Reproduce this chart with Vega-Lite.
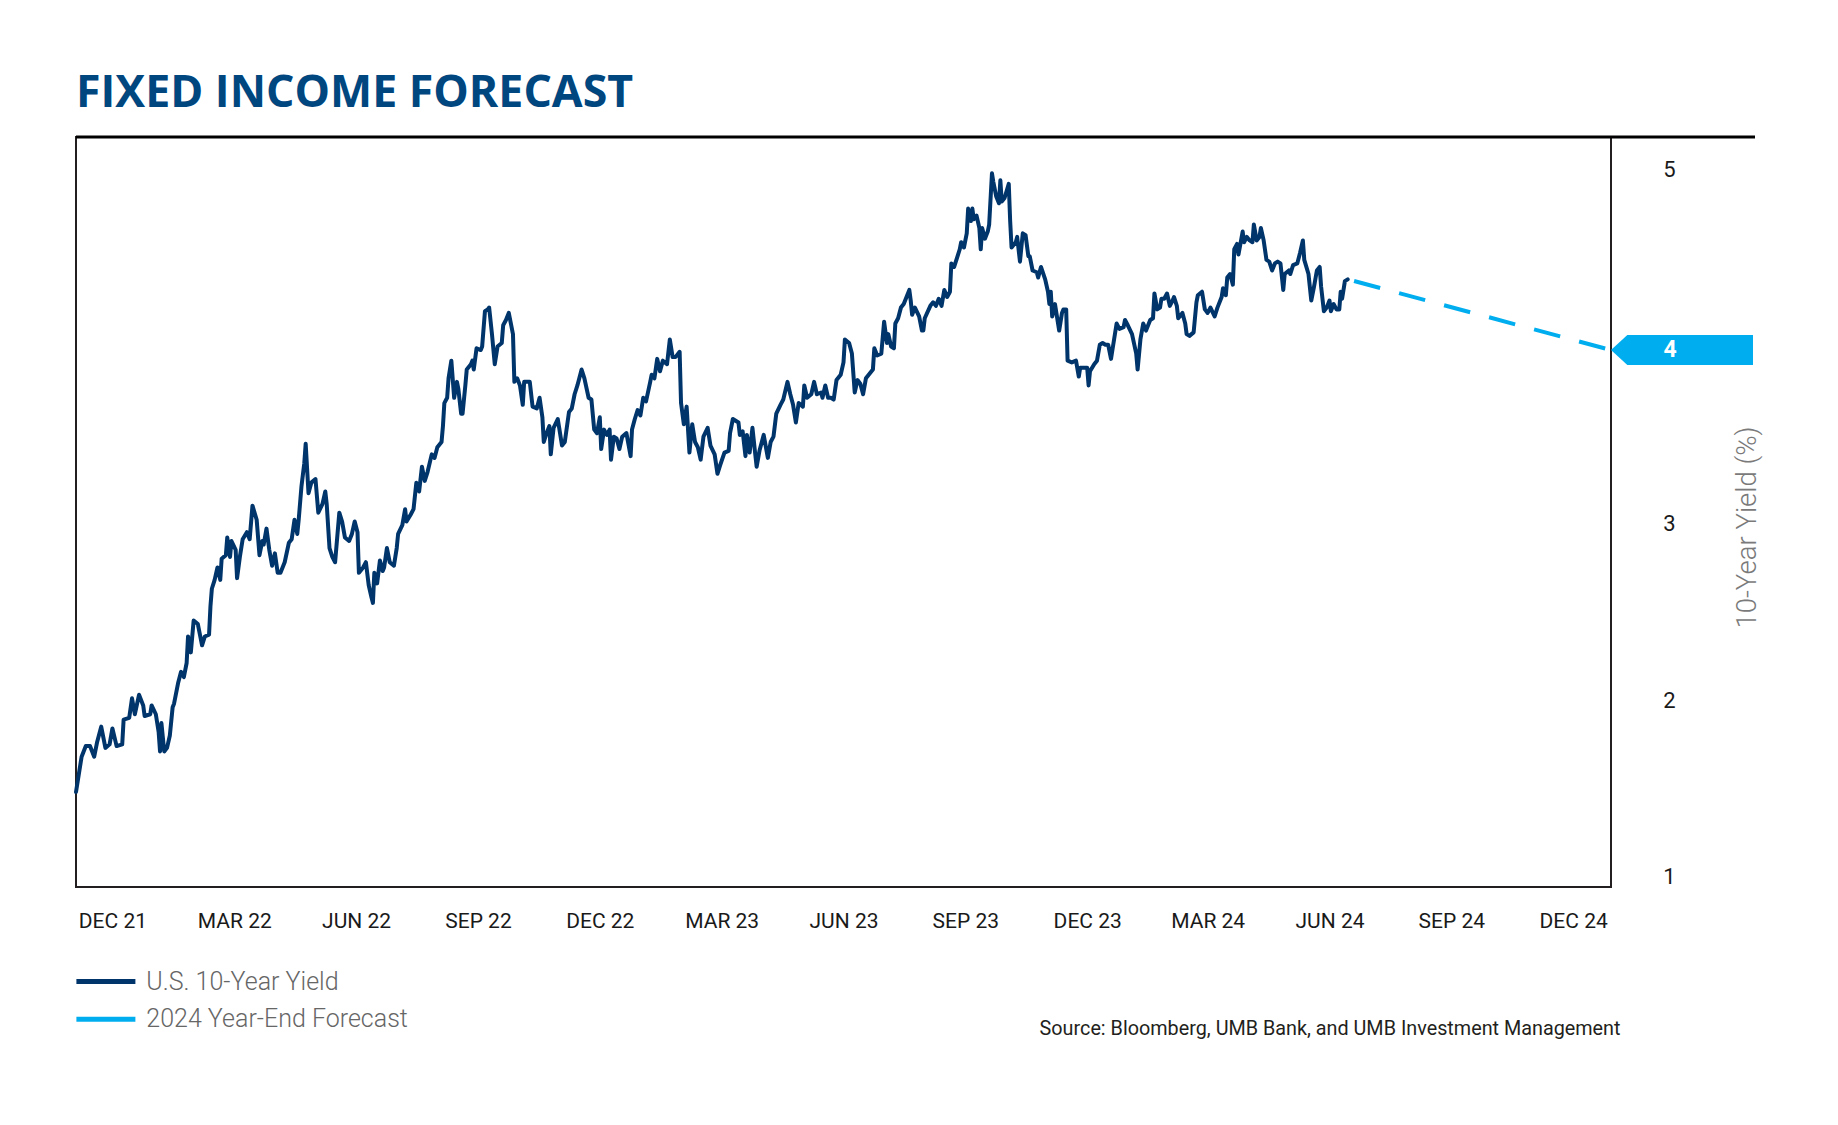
{
"$schema": "https://vega.github.io/schema/vega-lite/v6.json",
"width": 1535,
"height": 750,
"autosize": {"type": "none"},
"padding": {"left": 76, "top": 137, "right": 227, "bottom": 238},
"background": "white",
"title": {"text": "FIXED INCOME FORECAST", "anchor": "start", "frame": "group", "offset": -21.5, "font": "Open Sans", "fontSize": 44.7, "fontWeight": 700, "color": "#00467f", "baseline": "alphabetic"},
"config": {"view": {"stroke": "#231f20", "strokeWidth": 2}, "font": "Roboto"},
"datasets": {
"yield": [
{"date":"2021-12-31","yield":1.48},{"date":"2022-01-04","yield":1.68},{"date":"2022-01-07","yield":1.74},{"date":"2022-01-10","yield":1.74},{"date":"2022-01-13","yield":1.68},{"date":"2022-01-15","yield":1.76},{"date":"2022-01-18","yield":1.85},{"date":"2022-01-21","yield":1.73},{"date":"2022-01-24","yield":1.75},{"date":"2022-01-26","yield":1.84},{"date":"2022-01-29","yield":1.74},{"date":"2022-02-02","yield":1.75},{"date":"2022-02-03","yield":1.89},{"date":"2022-02-07","yield":1.9},{"date":"2022-02-09","yield":2.01},{"date":"2022-02-11","yield":1.92},{"date":"2022-02-14","yield":2.03},{"date":"2022-02-17","yield":1.97},{"date":"2022-02-18","yield":1.91},{"date":"2022-02-22","yield":1.92},{"date":"2022-02-23","yield":1.97},{"date":"2022-02-26","yield":1.92},{"date":"2022-02-28","yield":1.82},{"date":"2022-03-01","yield":1.71},{"date":"2022-03-02","yield":1.87},{"date":"2022-03-04","yield":1.71},{"date":"2022-03-06","yield":1.73},{"date":"2022-03-08","yield":1.8},{"date":"2022-03-10","yield":1.96},{"date":"2022-03-11","yield":1.98},{"date":"2022-03-14","yield":2.1},{"date":"2022-03-16","yield":2.16},{"date":"2022-03-18","yield":2.13},{"date":"2022-03-20","yield":2.21},{"date":"2022-03-21","yield":2.36},{"date":"2022-03-23","yield":2.27},{"date":"2022-03-25","yield":2.45},{"date":"2022-03-28","yield":2.43},{"date":"2022-03-31","yield":2.31},{"date":"2022-04-02","yield":2.36},{"date":"2022-04-05","yield":2.37},{"date":"2022-04-06","yield":2.53},{"date":"2022-04-07","yield":2.63},{"date":"2022-04-09","yield":2.68},{"date":"2022-04-11","yield":2.75},{"date":"2022-04-13","yield":2.68},{"date":"2022-04-14","yield":2.8},{"date":"2022-04-17","yield":2.82},{"date":"2022-04-18","yield":2.92},{"date":"2022-04-20","yield":2.81},{"date":"2022-04-21","yield":2.9},{"date":"2022-04-24","yield":2.85},{"date":"2022-04-25","yield":2.69},{"date":"2022-04-27","yield":2.81},{"date":"2022-04-29","yield":2.91},{"date":"2022-05-02","yield":2.95},{"date":"2022-05-04","yield":2.91},{"date":"2022-05-06","yield":3.1},{"date":"2022-05-09","yield":3.02},{"date":"2022-05-11","yield":2.82},{"date":"2022-05-13","yield":2.9},{"date":"2022-05-14","yield":2.88},{"date":"2022-05-16","yield":2.97},{"date":"2022-05-18","yield":2.85},{"date":"2022-05-20","yield":2.76},{"date":"2022-05-22","yield":2.83},{"date":"2022-05-24","yield":2.72},{"date":"2022-05-26","yield":2.72},{"date":"2022-05-29","yield":2.78},{"date":"2022-06-01","yield":2.89},{"date":"2022-06-03","yield":2.91},{"date":"2022-06-05","yield":3.02},{"date":"2022-06-07","yield":2.94},{"date":"2022-06-08","yield":3.02},{"date":"2022-06-10","yield":3.21},{"date":"2022-06-12","yield":3.34},{"date":"2022-06-13","yield":3.45},{"date":"2022-06-15","yield":3.17},{"date":"2022-06-17","yield":3.23},{"date":"2022-06-20","yield":3.25},{"date":"2022-06-22","yield":3.06},{"date":"2022-06-25","yield":3.11},{"date":"2022-06-27","yield":3.18},{"date":"2022-06-28","yield":3.11},{"date":"2022-06-30","yield":2.86},{"date":"2022-07-02","yield":2.81},{"date":"2022-07-04","yield":2.78},{"date":"2022-07-07","yield":3.06},{"date":"2022-07-09","yield":3.01},{"date":"2022-07-11","yield":2.92},{"date":"2022-07-14","yield":2.9},{"date":"2022-07-16","yield":2.94},{"date":"2022-07-18","yield":3.01},{"date":"2022-07-20","yield":2.95},{"date":"2022-07-21","yield":2.72},{"date":"2022-07-24","yield":2.75},{"date":"2022-07-26","yield":2.78},{"date":"2022-07-28","yield":2.65},{"date":"2022-07-30","yield":2.58},{"date":"2022-07-31","yield":2.55},{"date":"2022-08-01","yield":2.72},{"date":"2022-08-03","yield":2.66},{"date":"2022-08-05","yield":2.79},{"date":"2022-08-07","yield":2.73},{"date":"2022-08-08","yield":2.75},{"date":"2022-08-10","yield":2.86},{"date":"2022-08-12","yield":2.78},{"date":"2022-08-15","yield":2.76},{"date":"2022-08-17","yield":2.86},{"date":"2022-08-18","yield":2.94},{"date":"2022-08-21","yield":2.99},{"date":"2022-08-23","yield":3.08},{"date":"2022-08-24","yield":3.01},{"date":"2022-08-27","yield":3.05},{"date":"2022-08-29","yield":3.08},{"date":"2022-08-31","yield":3.23},{"date":"2022-09-02","yield":3.18},{"date":"2022-09-04","yield":3.32},{"date":"2022-09-06","yield":3.24},{"date":"2022-09-08","yield":3.29},{"date":"2022-09-11","yield":3.39},{"date":"2022-09-13","yield":3.37},{"date":"2022-09-15","yield":3.43},{"date":"2022-09-18","yield":3.46},{"date":"2022-09-19","yield":3.55},{"date":"2022-09-20","yield":3.68},{"date":"2022-09-22","yield":3.71},{"date":"2022-09-23","yield":3.82},{"date":"2022-09-25","yield":3.92},{"date":"2022-09-27","yield":3.71},{"date":"2022-09-29","yield":3.8},{"date":"2022-09-30","yield":3.76},{"date":"2022-10-02","yield":3.62},{"date":"2022-10-03","yield":3.62},{"date":"2022-10-05","yield":3.78},{"date":"2022-10-06","yield":3.87},{"date":"2022-10-09","yield":3.9},{"date":"2022-10-10","yield":3.92},{"date":"2022-10-11","yield":3.87},{"date":"2022-10-13","yield":3.99},{"date":"2022-10-16","yield":3.98},{"date":"2022-10-17","yield":4.0},{"date":"2022-10-19","yield":4.2},{"date":"2022-10-21","yield":4.21},{"date":"2022-10-22","yield":4.22},{"date":"2022-10-24","yield":4.07},{"date":"2022-10-26","yield":3.9},{"date":"2022-10-28","yield":4.0},{"date":"2022-10-31","yield":4.02},{"date":"2022-11-01","yield":4.12},{"date":"2022-11-03","yield":4.15},{"date":"2022-11-05","yield":4.19},{"date":"2022-11-08","yield":4.07},{"date":"2022-11-09","yield":3.8},{"date":"2022-11-11","yield":3.82},{"date":"2022-11-13","yield":3.78},{"date":"2022-11-15","yield":3.67},{"date":"2022-11-16","yield":3.8},{"date":"2022-11-20","yield":3.8},{"date":"2022-11-22","yield":3.66},{"date":"2022-11-25","yield":3.65},{"date":"2022-11-27","yield":3.71},{"date":"2022-11-29","yield":3.6},{"date":"2022-11-30","yield":3.46},{"date":"2022-12-02","yield":3.51},{"date":"2022-12-04","yield":3.55},{"date":"2022-12-05","yield":3.39},{"date":"2022-12-07","yield":3.54},{"date":"2022-12-10","yield":3.59},{"date":"2022-12-11","yield":3.54},{"date":"2022-12-13","yield":3.44},{"date":"2022-12-15","yield":3.46},{"date":"2022-12-18","yield":3.63},{"date":"2022-12-20","yield":3.65},{"date":"2022-12-22","yield":3.73},{"date":"2022-12-24","yield":3.78},{"date":"2022-12-27","yield":3.87},{"date":"2022-12-29","yield":3.82},{"date":"2023-01-01","yield":3.71},{"date":"2023-01-03","yield":3.7},{"date":"2023-01-05","yield":3.53},{"date":"2023-01-07","yield":3.51},{"date":"2023-01-09","yield":3.6},{"date":"2023-01-10","yield":3.42},{"date":"2023-01-12","yield":3.53},{"date":"2023-01-14","yield":3.5},{"date":"2023-01-16","yield":3.53},{"date":"2023-01-17","yield":3.36},{"date":"2023-01-19","yield":3.49},{"date":"2023-01-21","yield":3.48},{"date":"2023-01-23","yield":3.42},{"date":"2023-01-25","yield":3.49},{"date":"2023-01-28","yield":3.51},{"date":"2023-01-31","yield":3.38},{"date":"2023-02-01","yield":3.53},{"date":"2023-02-03","yield":3.59},{"date":"2023-02-05","yield":3.64},{"date":"2023-02-07","yield":3.61},{"date":"2023-02-09","yield":3.71},{"date":"2023-02-11","yield":3.69},{"date":"2023-02-14","yield":3.8},{"date":"2023-02-15","yield":3.84},{"date":"2023-02-17","yield":3.82},{"date":"2023-02-19","yield":3.93},{"date":"2023-02-21","yield":3.86},{"date":"2023-02-23","yield":3.92},{"date":"2023-02-26","yield":3.9},{"date":"2023-02-28","yield":4.04},{"date":"2023-03-02","yield":3.94},{"date":"2023-03-04","yield":3.94},{"date":"2023-03-07","yield":3.97},{"date":"2023-03-08","yield":3.68},{"date":"2023-03-10","yield":3.56},{"date":"2023-03-12","yield":3.66},{"date":"2023-03-14","yield":3.4},{"date":"2023-03-16","yield":3.56},{"date":"2023-03-18","yield":3.46},{"date":"2023-03-20","yield":3.43},{"date":"2023-03-22","yield":3.36},{"date":"2023-03-24","yield":3.49},{"date":"2023-03-27","yield":3.54},{"date":"2023-03-29","yield":3.44},{"date":"2023-04-01","yield":3.39},{"date":"2023-04-03","yield":3.28},{"date":"2023-04-05","yield":3.33},{"date":"2023-04-08","yield":3.4},{"date":"2023-04-11","yield":3.41},{"date":"2023-04-12","yield":3.51},{"date":"2023-04-14","yield":3.59},{"date":"2023-04-18","yield":3.57},{"date":"2023-04-19","yield":3.5},{"date":"2023-04-21","yield":3.52},{"date":"2023-04-23","yield":3.38},{"date":"2023-04-24","yield":3.5},{"date":"2023-04-26","yield":3.4},{"date":"2023-04-28","yield":3.54},{"date":"2023-04-30","yield":3.39},{"date":"2023-05-01","yield":3.32},{"date":"2023-05-03","yield":3.41},{"date":"2023-05-06","yield":3.5},{"date":"2023-05-09","yield":3.37},{"date":"2023-05-11","yield":3.46},{"date":"2023-05-13","yield":3.49},{"date":"2023-05-15","yield":3.62},{"date":"2023-05-18","yield":3.67},{"date":"2023-05-20","yield":3.7},{"date":"2023-05-23","yield":3.8},{"date":"2023-05-25","yield":3.73},{"date":"2023-05-27","yield":3.67},{"date":"2023-05-29","yield":3.57},{"date":"2023-05-31","yield":3.68},{"date":"2023-06-03","yield":3.66},{"date":"2023-06-04","yield":3.78},{"date":"2023-06-06","yield":3.71},{"date":"2023-06-09","yield":3.73},{"date":"2023-06-11","yield":3.8},{"date":"2023-06-13","yield":3.73},{"date":"2023-06-16","yield":3.74},{"date":"2023-06-17","yield":3.71},{"date":"2023-06-19","yield":3.78},{"date":"2023-06-21","yield":3.71},{"date":"2023-06-23","yield":3.71},{"date":"2023-06-25","yield":3.7},{"date":"2023-06-27","yield":3.81},{"date":"2023-06-30","yield":3.84},{"date":"2023-07-02","yield":3.91},{"date":"2023-07-03","yield":4.04},{"date":"2023-07-06","yield":4.02},{"date":"2023-07-08","yield":3.96},{"date":"2023-07-10","yield":3.74},{"date":"2023-07-12","yield":3.81},{"date":"2023-07-14","yield":3.79},{"date":"2023-07-16","yield":3.73},{"date":"2023-07-18","yield":3.82},{"date":"2023-07-21","yield":3.85},{"date":"2023-07-23","yield":3.87},{"date":"2023-07-24","yield":3.99},{"date":"2023-07-26","yield":3.95},{"date":"2023-07-29","yield":3.96},{"date":"2023-07-31","yield":4.14},{"date":"2023-08-02","yield":4.02},{"date":"2023-08-03","yield":4.07},{"date":"2023-08-05","yield":4.0},{"date":"2023-08-07","yield":3.99},{"date":"2023-08-08","yield":4.13},{"date":"2023-08-10","yield":4.16},{"date":"2023-08-12","yield":4.22},{"date":"2023-08-14","yield":4.24},{"date":"2023-08-15","yield":4.26},{"date":"2023-08-18","yield":4.32},{"date":"2023-08-19","yield":4.26},{"date":"2023-08-20","yield":4.18},{"date":"2023-08-22","yield":4.22},{"date":"2023-08-25","yield":4.17},{"date":"2023-08-27","yield":4.09},{"date":"2023-08-28","yield":4.09},{"date":"2023-08-29","yield":4.16},{"date":"2023-09-02","yield":4.23},{"date":"2023-09-04","yield":4.25},{"date":"2023-09-06","yield":4.23},{"date":"2023-09-08","yield":4.27},{"date":"2023-09-10","yield":4.23},{"date":"2023-09-12","yield":4.32},{"date":"2023-09-14","yield":4.28},{"date":"2023-09-16","yield":4.31},{"date":"2023-09-17","yield":4.47},{"date":"2023-09-19","yield":4.45},{"date":"2023-09-21","yield":4.5},{"date":"2023-09-23","yield":4.55},{"date":"2023-09-24","yield":4.59},{"date":"2023-09-26","yield":4.56},{"date":"2023-09-28","yield":4.64},{"date":"2023-09-29","yield":4.78},{"date":"2023-10-01","yield":4.71},{"date":"2023-10-02","yield":4.78},{"date":"2023-10-03","yield":4.72},{"date":"2023-10-05","yield":4.74},{"date":"2023-10-07","yield":4.67},{"date":"2023-10-08","yield":4.55},{"date":"2023-10-09","yield":4.67},{"date":"2023-10-11","yield":4.61},{"date":"2023-10-13","yield":4.65},{"date":"2023-10-14","yield":4.69},{"date":"2023-10-16","yield":4.98},{"date":"2023-10-17","yield":4.93},{"date":"2023-10-19","yield":4.85},{"date":"2023-10-21","yield":4.81},{"date":"2023-10-22","yield":4.94},{"date":"2023-10-23","yield":4.82},{"date":"2023-10-25","yield":4.84},{"date":"2023-10-28","yield":4.92},{"date":"2023-10-29","yield":4.71},{"date":"2023-10-30","yield":4.56},{"date":"2023-11-02","yield":4.59},{"date":"2023-11-03","yield":4.62},{"date":"2023-11-05","yield":4.48},{"date":"2023-11-07","yield":4.64},{"date":"2023-11-09","yield":4.63},{"date":"2023-11-11","yield":4.51},{"date":"2023-11-12","yield":4.51},{"date":"2023-11-14","yield":4.43},{"date":"2023-11-17","yield":4.42},{"date":"2023-11-18","yield":4.39},{"date":"2023-11-20","yield":4.45},{"date":"2023-11-23","yield":4.38},{"date":"2023-11-25","yield":4.31},{"date":"2023-11-26","yield":4.24},{"date":"2023-11-27","yield":4.31},{"date":"2023-11-28","yield":4.17},{"date":"2023-11-30","yield":4.24},{"date":"2023-12-03","yield":4.09},{"date":"2023-12-05","yield":4.19},{"date":"2023-12-06","yield":4.21},{"date":"2023-12-08","yield":4.21},{"date":"2023-12-09","yield":3.92},{"date":"2023-12-12","yield":3.91},{"date":"2023-12-15","yield":3.92},{"date":"2023-12-17","yield":3.83},{"date":"2023-12-18","yield":3.88},{"date":"2023-12-21","yield":3.88},{"date":"2023-12-23","yield":3.88},{"date":"2023-12-24","yield":3.78},{"date":"2023-12-25","yield":3.86},{"date":"2023-12-28","yield":3.9},{"date":"2023-12-30","yield":3.92},{"date":"2024-01-01","yield":4.01},{"date":"2024-01-03","yield":4.02},{"date":"2024-01-05","yield":4.01},{"date":"2024-01-07","yield":4.01},{"date":"2024-01-09","yield":3.93},{"date":"2024-01-10","yield":3.98},{"date":"2024-01-13","yield":4.13},{"date":"2024-01-15","yield":4.1},{"date":"2024-01-18","yield":4.11},{"date":"2024-01-19","yield":4.15},{"date":"2024-01-21","yield":4.12},{"date":"2024-01-24","yield":4.07},{"date":"2024-01-27","yield":3.96},{"date":"2024-01-28","yield":3.87},{"date":"2024-01-30","yield":4.04},{"date":"2024-02-01","yield":4.13},{"date":"2024-02-03","yield":4.09},{"date":"2024-02-06","yield":4.15},{"date":"2024-02-08","yield":4.16},{"date":"2024-02-09","yield":4.3},{"date":"2024-02-11","yield":4.21},{"date":"2024-02-13","yield":4.22},{"date":"2024-02-14","yield":4.27},{"date":"2024-02-16","yield":4.27},{"date":"2024-02-18","yield":4.3},{"date":"2024-02-20","yield":4.23},{"date":"2024-02-22","yield":4.26},{"date":"2024-02-23","yield":4.28},{"date":"2024-02-25","yield":4.23},{"date":"2024-02-26","yield":4.16},{"date":"2024-02-29","yield":4.19},{"date":"2024-03-02","yield":4.13},{"date":"2024-03-03","yield":4.07},{"date":"2024-03-05","yield":4.06},{"date":"2024-03-08","yield":4.08},{"date":"2024-03-10","yield":4.25},{"date":"2024-03-11","yield":4.29},{"date":"2024-03-14","yield":4.31},{"date":"2024-03-16","yield":4.21},{"date":"2024-03-18","yield":4.19},{"date":"2024-03-20","yield":4.22},{"date":"2024-03-23","yield":4.17},{"date":"2024-03-25","yield":4.22},{"date":"2024-03-28","yield":4.28},{"date":"2024-03-29","yield":4.33},{"date":"2024-03-31","yield":4.29},{"date":"2024-04-01","yield":4.39},{"date":"2024-04-03","yield":4.41},{"date":"2024-04-05","yield":4.35},{"date":"2024-04-06","yield":4.55},{"date":"2024-04-08","yield":4.58},{"date":"2024-04-09","yield":4.52},{"date":"2024-04-12","yield":4.65},{"date":"2024-04-13","yield":4.59},{"date":"2024-04-15","yield":4.62},{"date":"2024-04-17","yield":4.6},{"date":"2024-04-19","yield":4.59},{"date":"2024-04-20","yield":4.69},{"date":"2024-04-22","yield":4.6},{"date":"2024-04-24","yield":4.62},{"date":"2024-04-25","yield":4.67},{"date":"2024-04-27","yield":4.6},{"date":"2024-04-29","yield":4.49},{"date":"2024-05-01","yield":4.48},{"date":"2024-05-03","yield":4.43},{"date":"2024-05-05","yield":4.47},{"date":"2024-05-07","yield":4.48},{"date":"2024-05-09","yield":4.47},{"date":"2024-05-11","yield":4.32},{"date":"2024-05-12","yield":4.41},{"date":"2024-05-15","yield":4.43},{"date":"2024-05-16","yield":4.41},{"date":"2024-05-18","yield":4.46},{"date":"2024-05-21","yield":4.47},{"date":"2024-05-23","yield":4.53},{"date":"2024-05-25","yield":4.6},{"date":"2024-05-26","yield":4.49},{"date":"2024-05-29","yield":4.41},{"date":"2024-05-31","yield":4.26},{"date":"2024-06-02","yield":4.34},{"date":"2024-06-04","yield":4.43},{"date":"2024-06-06","yield":4.45},{"date":"2024-06-07","yield":4.34},{"date":"2024-06-09","yield":4.2},{"date":"2024-06-11","yield":4.22},{"date":"2024-06-13","yield":4.26},{"date":"2024-06-14","yield":4.2},{"date":"2024-06-16","yield":4.24},{"date":"2024-06-18","yield":4.21},{"date":"2024-06-20","yield":4.21},{"date":"2024-06-21","yield":4.31},{"date":"2024-06-22","yield":4.27},{"date":"2024-06-24","yield":4.37},{"date":"2024-06-26","yield":4.38}
],
"forecast": [{"date":"2024-06-26","yield":4.38},{"date":"2024-12-31","yield":3.98}],
"target": [{"date":"2024-12-31","yield":3.98}],
"topline": [{"date":"2021-12-31"}]
},
"layer": [
  {"data": {"name": "yield"},
   "mark": {"type": "line", "strokeWidth": 4, "strokeJoin": "round", "strokeCap": "round"},
   "encoding": {
     "x": {"field": "date", "type": "temporal",
       "scale": {"domain": [{"year":2021,"month":12,"date":31,"utc":true},{"year":2024,"month":12,"date":31,"utc":true}]},
       "axis": {"title": "Source: Bloomberg, UMB Bank, and UMB Investment Management",
         "values": [{"year":2022,"month":1,"date":26,"utc":true},{"year":2022,"month":4,"date":23,"utc":true},{"year":2022,"month":7,"date":19,"utc":true},{"year":2022,"month":10,"date":14,"utc":true},{"year":2023,"month":1,"date":9,"utc":true},{"year":2023,"month":4,"date":6,"utc":true},{"year":2023,"month":7,"date":2,"utc":true},{"year":2023,"month":9,"date":27,"utc":true},{"year":2023,"month":12,"date":23,"utc":true},{"year":2024,"month":3,"date":18,"utc":true},{"year":2024,"month":6,"date":13,"utc":true},{"year":2024,"month":9,"date":8,"utc":true},{"year":2024,"month":12,"date":4,"utc":true}],
         "labelExpr": "['DEC 21','MAR 22','JUN 22','SEP 22','DEC 22','MAR 23','JUN 23','SEP 23','DEC 23','MAR 24','JUN 24','SEP 24','DEC 24'][round(datum.index*12)]",
         "domain": false, "ticks": false, "tickSize": 0, "grid": false,
         "labelPadding": 34, "labelBaseline": "middle", "labelAlign": "center", "labelFlush": false, "labelOverlap": false,
         "labelFont": "Roboto", "labelFontSize": 21, "labelColor": "#1a1a1a",
         "titleX": 1544, "titleY": 141, "titleAlign": "right", "titleBaseline": "middle",
         "titleFont": "Roboto", "titleFontSize": 19.8, "titleFontWeight": 400, "titleColor": "#231f20"}},
     "y": {"field": "yield", "type": "quantitative",
       "scale": {"domain": [0.943, 5.185], "nice": false, "zero": false},
       "axis": {"orient": "right", "values": [1,2,3,5], "format": "d", "title": "10-Year Yield (%)",
         "domain": false, "ticks": false, "tickSize": 0, "grid": false,
         "labelPadding": 58, "labelAlign": "center", "labelBaseline": "middle",
         "labelFont": "Roboto", "labelFontSize": 22, "labelColor": "#1a1a1a",
         "titleAngle": 270, "titleX": 136, "titleY": 390, "titleAlign": "center", "titleBaseline": "middle",
         "titleFont": "Roboto", "titleFontSize": 27.5, "titleFontWeight": 300, "titleColor": "#7a7a7a"}},
     "color": {"datum": "U.S. 10-Year Yield",
       "scale": {"domain": ["U.S. 10-Year Yield", "2024 Year-End Forecast"], "range": ["#00356b", "#00aeef"]},
       "legend": {"orient": "none", "legendX": 15.4, "legendY": 830, "title": null, "direction": "vertical",
         "symbolType": "M-2.5,0H2.5", "symbolSize": 557, "symbolStrokeWidth": 5,
         "labelFont": "Roboto", "labelFontSize": 25, "labelFontWeight": 300, "labelColor": "#666666",
         "labelOffset": 25.9, "rowPadding": 9.7, "padding": 0, "labelLimit": 400}}}},
  {"data": {"name": "forecast"},
   "mark": {"type": "line", "strokeWidth": 4, "strokeDash": [27, 19.6], "strokeDashOffset": 40},
   "encoding": {"x": {"field": "date", "type": "temporal"}, "y": {"field": "yield", "type": "quantitative"},
     "color": {"datum": "2024 Year-End Forecast"}}},
  {"data": {"name": "target"},
   "mark": {"type": "point", "shape": "M0,0L0.115,-0.1056L1,-0.1056L1,0.1056L0.115,0.1056Z", "size": 80656, "filled": true, "color": "#00aeef", "opacity": 1, "strokeWidth": 0},
   "encoding": {"x": {"field": "date", "type": "temporal"}, "y": {"field": "yield", "type": "quantitative"}}},
  {"data": {"name": "target"},
   "mark": {"type": "text", "dx": 59, "align": "center", "baseline": "middle", "color": "white", "font": "Roboto", "fontSize": 23, "fontWeight": "bold"},
   "encoding": {"x": {"field": "date", "type": "temporal"}, "y": {"field": "yield", "type": "quantitative"},
     "text": {"field": "yield", "type": "quantitative", "format": ".0f"}}},
  {"data": {"name": "topline"},
   "mark": {"type": "point", "shape": "M0,0H1", "size": 11276164, "filled": false, "stroke": "#000000", "strokeWidth": 3.2, "opacity": 1, "strokeCap": "butt"},
   "encoding": {"x": {"field": "date", "type": "temporal"}, "y": {"datum": 5.185, "type": "quantitative"}}}
]
}
